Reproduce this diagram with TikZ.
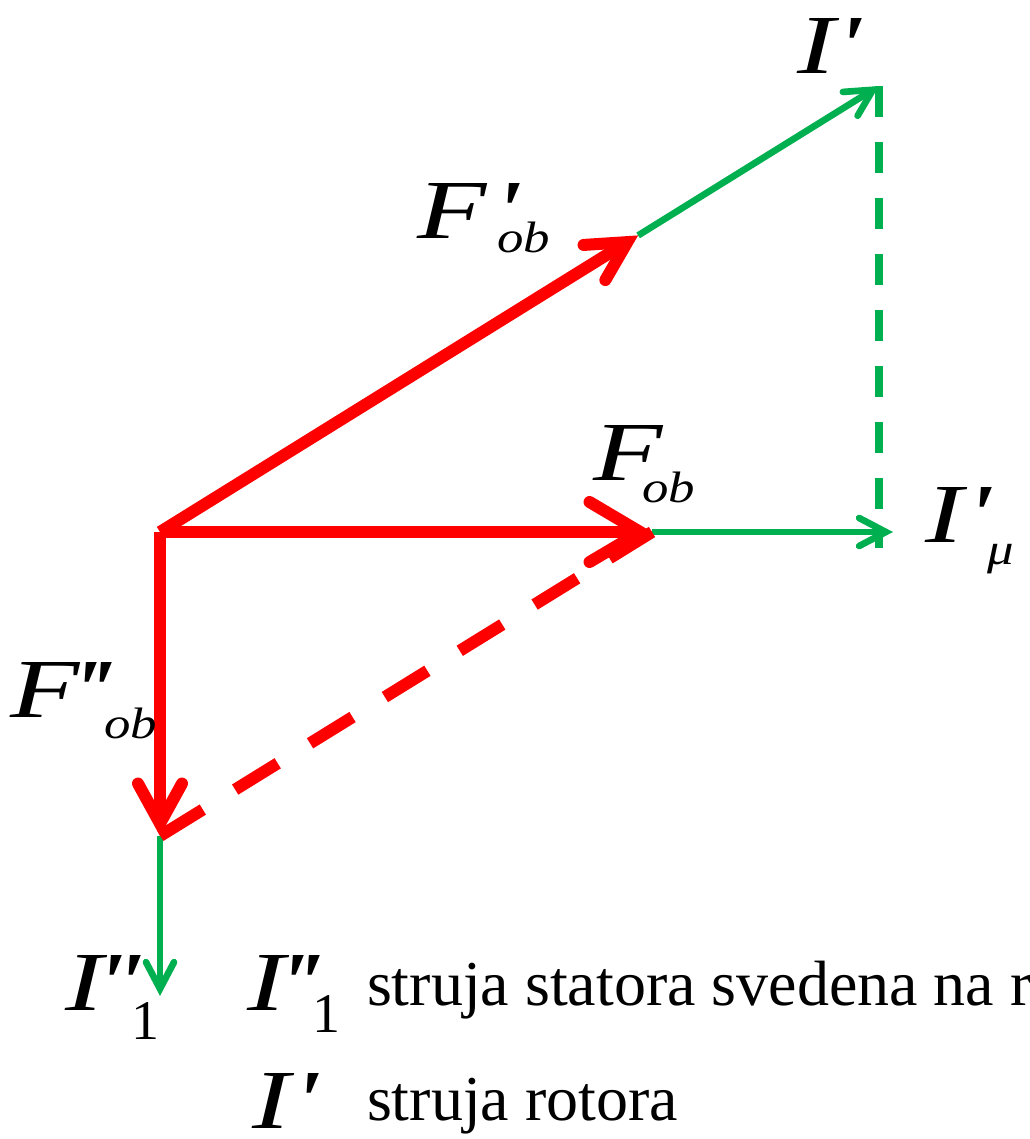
\documentclass[tikz,border=0pt]{standalone}
\usepackage{fontspec}
\setmainfont{Liberation Serif}[Ligatures=TeXOff]
\usetikzlibrary{arrows.meta,calc}
\definecolor{gr}{HTML}{00B050}
\definecolor{rd}{HTML}{FF0000}
\newcommand\Ap{\char39\relax}
\newcommand\LF{\fontsize{63}{63}\selectfont\itshape}
\newcommand\SF{\fontsize{33}{33}\selectfont\itshape}
\newcommand\NF{\fontsize{42}{42}\selectfont\upshape}
\newcommand\HS[1]{\scalebox{1.35}[1]{#1}}
\newcommand\SbS[1]{\scalebox{1.2}[1]{#1}}
\newcommand\TF{\fontsize{48}{48}\selectfont\upshape}
% main letter, kern before prime, primes, kern before sub, drop, sub
\newcommand\Lbl[6]{\HS{\LF #1}\kern#2\HS{\LF #3}\kern#4\raisebox{-#5}{#6}}
\tikzset{
  gline/.style={draw=gr, line width=5pt},
  gdash/.style={draw=gr, line width=6pt, dash pattern=on 23.25pt off 18.75pt},
  rline/.style={draw=rd, line width=9pt},
  rdash/.style={draw=rd, line width=9pt, dash pattern=on 37.5pt off 28.5pt},
  gtip/.style={-{Straight Barb[length=20pt,width=21pt,line cap=round,line join=miter]}},
  lab/.style={anchor=base west, inner sep=0pt, outer sep=0pt, text=black}
}
\begin{document}
\begin{tikzpicture}[x=0.75pt,y=-0.75pt]
\useasboundingbox (0,0) rectangle (1029,1139);
\clip (0,0) rectangle (1029,1139);
% points
\coordinate (O) at (160,532);
\coordinate (Ip) at (879,86);
\coordinate (Fp) at ($(O)!0.665!(Ip)$);
\coordinate (Fob) at (652,532);
\coordinate (Imu) at (893,532);
\coordinate (Fpp) at (160,836);
\coordinate (I1) at (160,996);
\coordinate (Ibot) at (879,548);
% green
\draw[gdash] (Ip) -- (Ibot);
\draw[gline, gtip] (Fp) -- (Ip);
\draw[gline, gtip] (Fob) -- (Imu);
\draw[gline, gtip] (Fpp) -- (I1);
% red
\draw[rline, -{Straight Barb[length=29pt,width=31pt,line cap=round,line join=miter]}] (O) -- (Fp);
\draw[rline, -{Straight Barb[length=38pt,width=45pt,line cap=round,line join=miter]}] (O) -- (Fob);
\draw[rline, -{Straight Barb[length=30pt,width=33pt,line cap=round,line join=miter]}] (O) -- (Fpp);
\draw[rdash] (Fob) -- (Fpp);
% labels
\node[lab] (lIp) at (797,73) {\HS{\LF I}\kern1.5pt\HS{\LF\Ap}};
\node[lab] (lFp) at (417,238) {\Lbl{F}{6pt}{\Ap}{-16pt}{11pt}{\SbS{\SF ob}}};
\node[lab] (lF) at (593,480) {\HS{\LF F}\kern-15pt\raisebox{-16.5pt}{\SbS{\SF ob}}};
\node[lab] (lImu) at (925,542) {\Lbl{I}{3pt}{\Ap}{-3pt}{17pt}{\SbS{\SF μ}}};
\node[lab] (lFpp) at (10,717) {\Lbl{F}{-6pt}{\Ap\kern-5pt\Ap}{-5pt}{16pt}{\SbS{\SF ob}}};
\node[lab] (lI1) at (65,1010) {\Lbl{I}{-5pt}{\Ap\kern-3pt\Ap}{-6pt}{22pt}{\NF 1}};
\node[lab] (gI1) at (247,1010) {\Lbl{I}{-4.5pt}{\Ap\kern-4.5pt\Ap}{-5pt}{17pt}{\NF 1}};
\node[lab] (gT1) at (367,1005) {\TF struja statora svedena na rotor};
\node[lab] (gIp) at (252,1128) {\HS{\LF I}\kern3pt\HS{\LF\Ap}};
\node[lab] (gT2) at (367,1120) {\TF struja rotora};
\end{tikzpicture}
\end{document}
